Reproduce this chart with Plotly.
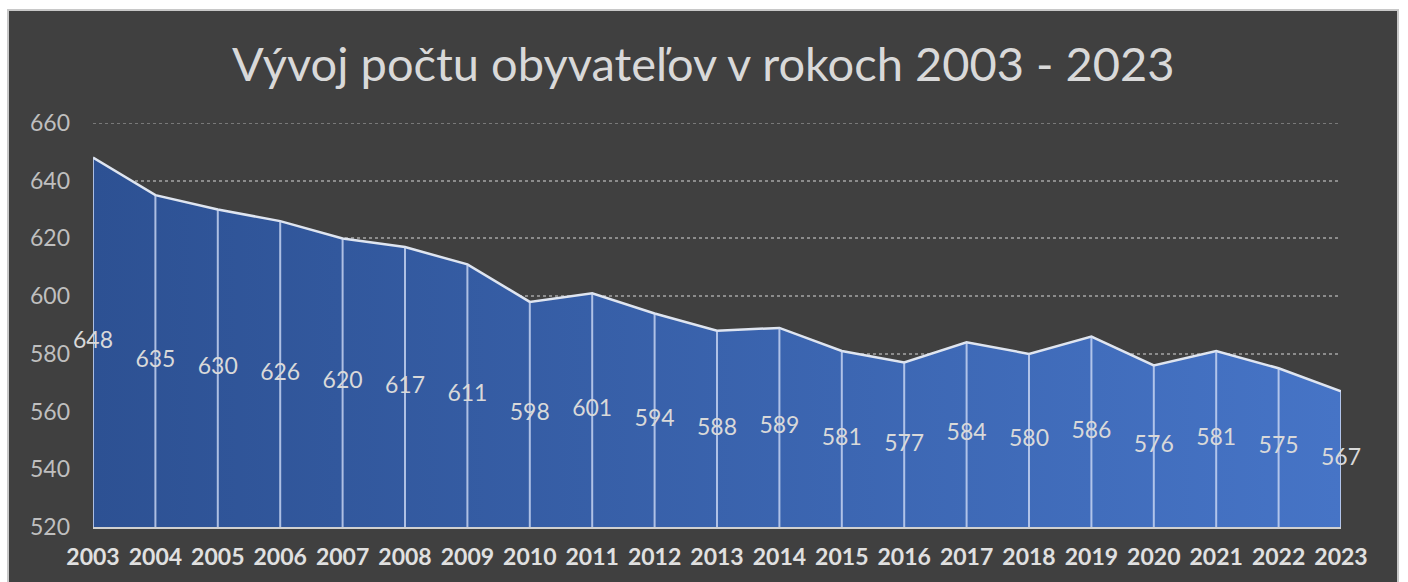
import plotly.graph_objects as go

years = list(range(2003, 2024))
population = [648, 635, 630, 626, 620, 617, 611, 598, 601, 594, 588,
              589, 581, 577, 584, 580, 586, 576, 581, 575, 567]
y_min, y_max, y_step = 520, 660, 20
title_text = "Vývoj počtu obyvateľov v rokoch 2003 - 2023"

FONT = "Lato"
W, H = 1408, 582
ML, MR, MT, MB = 93, 67, 123, 55
pw, ph = W - ML - MR, H - MT - MB

fig = go.Figure()

# gradient-filled area
fig.add_trace(go.Scatter(
    x=years, y=population, mode="lines",
    fill="tozeroy",
    fillgradient=dict(type="horizontal",
                      colorscale=[[0, "#2d5193"], [1, "#4674c6"]]),
    line=dict(color="#dfe5f0", width=2.5),
    hoverinfo="skip", showlegend=False,
))

# vertical drop lines
dx, dy = [], []
for yr, v in zip(years, population):
    dx += [yr, yr, None]
    dy += [y_min, v, None]
fig.add_trace(go.Scatter(
    x=dx, y=dy, mode="lines",
    line=dict(color="rgba(205,218,245,0.8)", width=2),
    hoverinfo="skip", showlegend=False,
))

# data labels at mid-height of area
fig.add_trace(go.Scatter(
    x=years, y=[(y_min + v) / 2 for v in population],
    mode="text", text=[str(v) for v in population],
    textposition="middle center", cliponaxis=False,
    textfont=dict(family=FONT, size=23, color="#d9d9d9"),
    hoverinfo="skip", showlegend=False,
))

# background panel with border
fig.add_shape(type="rect", xref="paper", yref="paper",
              x0=(8 - ML) / pw, x1=(1398 - ML) / pw,
              y0=(H - MB - 600) / ph, y1=(H - MB - 10) / ph,
              fillcolor="#404040", line=dict(color="#c8c8c8", width=2),
              layer="below")

# top gridline (at the edge of the range)
fig.add_shape(type="line", xref="paper", yref="y",
              x0=0, x1=1, y0=y_max, y1=y_max,
              line=dict(color="#8c8c8c", width=1.5, dash="dot"),
              layer="below")

fig.update_layout(
    width=W, height=H,
    margin=dict(l=ML, r=MR, t=MT, b=MB),
    paper_bgcolor="white", plot_bgcolor="rgba(0,0,0,0)",
    title=dict(text=title_text, x=0.4995, xref="container", xanchor="center",
               y=1 - 65 / H, yanchor="middle",
               font=dict(family=FONT, size=47, color="#d9d9d9")),
    font=dict(family=FONT),
    xaxis=dict(
        range=[years[0], years[-1]], tickmode="array", tickvals=years,
        ticktext=[f"<b>{y}</b>" for y in years],
        tickfont=dict(family=FONT, size=23, color="#e0e0e0"),
        showgrid=False, zeroline=False,
        showline=True, linecolor="#d0d0d0", linewidth=2,
        ticks="", ticklabelstandoff=8,
    ),
    yaxis=dict(
        range=[y_min, y_max], tickmode="array",
        tickvals=list(range(y_min, y_max + 1, y_step)),
        tickfont=dict(family=FONT, size=23, color="#bfbfbf"),
        showgrid=True, gridcolor="#8c8c8c", griddash="dot", gridwidth=1.5,
        zeroline=False, showline=False, ticks="", ticklabelstandoff=22,
    ),
)

fig.write_html("out.html")
